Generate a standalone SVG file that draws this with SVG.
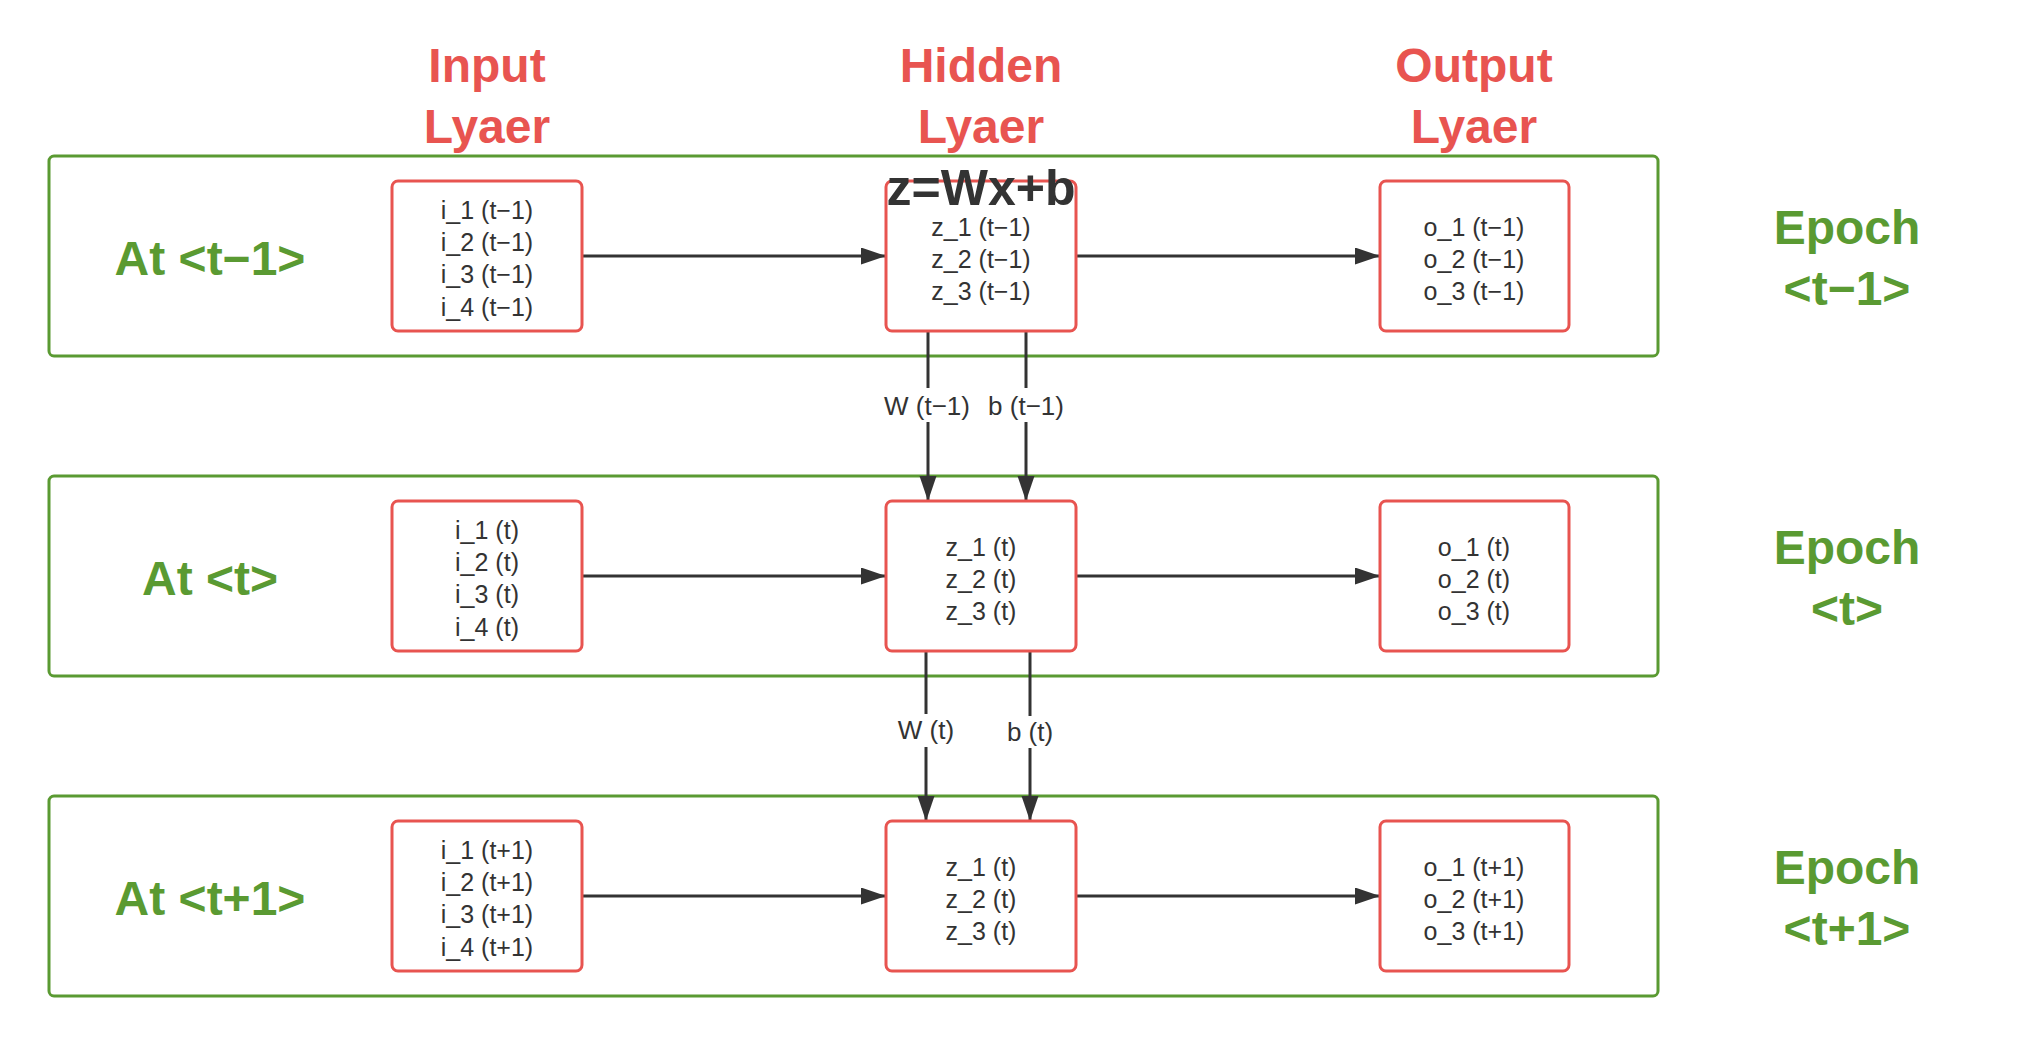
<svg xmlns="http://www.w3.org/2000/svg" width="2036" height="1046" viewBox="0 0 2036 1046">
<style>
.band{fill:none;stroke:#5a9a32;stroke-width:3}
.box{fill:#fff;stroke:#e85450;stroke-width:3}
.t{font-family:"Liberation Sans",Arial,sans-serif;font-size:25px;fill:#333;text-anchor:middle}
.lbl{font-family:"Liberation Sans",Arial,sans-serif;font-size:26px;fill:#333;text-anchor:middle}
.big{font-family:"Liberation Sans",Arial,sans-serif;font-size:48px;font-weight:bold;text-anchor:middle}
.red{fill:#e85450}
.green{fill:#5a9a32}
.eq{font-family:"Liberation Sans",Arial,sans-serif;font-size:50px;font-weight:bold;fill:#333;text-anchor:middle}
.c{stroke:#333;stroke-width:3;fill:none}
</style>
<defs>
<marker id="arr" markerUnits="userSpaceOnUse" markerWidth="26" markerHeight="18" refX="25" refY="8.5" orient="auto">
<path d="M0,0 L25,8.5 L0,17 z" fill="#333"/>
</marker>
</defs>
<rect width="2036" height="1046" fill="#fff"/>

<g id="titles">
<text class="big red" x="487" y="82">Input</text>
<text class="big red" x="487" y="143">Lyaer</text>
<text class="big red" x="981" y="82">Hidden</text>
<text class="big red" x="981" y="143">Lyaer</text>
<text class="big red" x="1474" y="82">Output</text>
<text class="big red" x="1474" y="143">Lyaer</text>
</g>

<g id="band1">
<rect class="band" x="49" y="156" width="1609" height="200" rx="5"/>
<text class="big green" x="210" y="275">At &lt;t−1&gt;</text>
</g>
<g id="band2">
<rect class="band" x="49" y="476" width="1609" height="200" rx="5"/>
<text class="big green" x="210" y="595">At &lt;t&gt;</text>
</g>
<g id="band3">
<rect class="band" x="49" y="796" width="1609" height="200" rx="5"/>
<text class="big green" x="210" y="915">At &lt;t+1&gt;</text>
</g>

<g id="epoch1"><text class="big green" x="1847" y="244">Epoch</text><text class="big green" x="1847" y="305">&lt;t−1&gt;</text></g>
<g id="epoch2"><text class="big green" x="1847" y="564">Epoch</text><text class="big green" x="1847" y="625">&lt;t&gt;</text></g>
<g id="epoch3"><text class="big green" x="1847" y="884">Epoch</text><text class="big green" x="1847" y="945">&lt;t+1&gt;</text></g>

<g id="connectors">
<line class="c" x1="582" y1="256" x2="886" y2="256" marker-end="url(#arr)"/>
<line class="c" x1="1076" y1="256" x2="1380" y2="256" marker-end="url(#arr)"/>
<line class="c" x1="582" y1="576" x2="886" y2="576" marker-end="url(#arr)"/>
<line class="c" x1="1076" y1="576" x2="1380" y2="576" marker-end="url(#arr)"/>
<line class="c" x1="582" y1="896" x2="886" y2="896" marker-end="url(#arr)"/>
<line class="c" x1="1076" y1="896" x2="1380" y2="896" marker-end="url(#arr)"/>
<line class="c" x1="928" y1="331" x2="928" y2="388"/>
<line class="c" x1="928" y1="422" x2="928" y2="501" marker-end="url(#arr)"/>
<line class="c" x1="1026" y1="331" x2="1026" y2="388"/>
<line class="c" x1="1026" y1="422" x2="1026" y2="501" marker-end="url(#arr)"/>
<line class="c" x1="926" y1="651" x2="926" y2="714"/>
<line class="c" x1="926" y1="747" x2="926" y2="821" marker-end="url(#arr)"/>
<line class="c" x1="1030" y1="651" x2="1030" y2="716"/>
<line class="c" x1="1030" y1="748" x2="1030" y2="821" marker-end="url(#arr)"/>
<text class="lbl" x="927" y="415">W (t−1)</text>
<text class="lbl" x="1026" y="415">b (t−1)</text>
<text class="lbl" x="926" y="739">W (t)</text>
<text class="lbl" x="1030" y="741">b (t)</text>
</g>

<g id="input1"><rect class="box" x="392" y="181" width="190" height="150" rx="6"/>
<text class="t" x="487" y="219">i_1 (t−1)</text><text class="t" x="487" y="251">i_2 (t−1)</text><text class="t" x="487" y="283">i_3 (t−1)</text><text class="t" x="487" y="316">i_4 (t−1)</text></g>
<g id="hidden1"><rect class="box" x="886" y="181" width="190" height="150" rx="6"/>
<text class="t" x="981" y="236">z_1 (t−1)</text><text class="t" x="981" y="268">z_2 (t−1)</text><text class="t" x="981" y="300">z_3 (t−1)</text></g>
<g id="formula"><text class="eq" x="981" y="205">z=Wx+b</text></g>
<g id="output1"><rect class="box" x="1380" y="181" width="189" height="150" rx="6"/>
<text class="t" x="1474" y="236">o_1 (t−1)</text><text class="t" x="1474" y="268">o_2 (t−1)</text><text class="t" x="1474" y="300">o_3 (t−1)</text></g>

<g id="input2"><rect class="box" x="392" y="501" width="190" height="150" rx="6"/>
<text class="t" x="487" y="539">i_1 (t)</text><text class="t" x="487" y="571">i_2 (t)</text><text class="t" x="487" y="603">i_3 (t)</text><text class="t" x="487" y="636">i_4 (t)</text></g>
<g id="hidden2"><rect class="box" x="886" y="501" width="190" height="150" rx="6"/>
<text class="t" x="981" y="556">z_1 (t)</text><text class="t" x="981" y="588">z_2 (t)</text><text class="t" x="981" y="620">z_3 (t)</text></g>
<g id="output2"><rect class="box" x="1380" y="501" width="189" height="150" rx="6"/>
<text class="t" x="1474" y="556">o_1 (t)</text><text class="t" x="1474" y="588">o_2 (t)</text><text class="t" x="1474" y="620">o_3 (t)</text></g>

<g id="input3"><rect class="box" x="392" y="821" width="190" height="150" rx="6"/>
<text class="t" x="487" y="859">i_1 (t+1)</text><text class="t" x="487" y="891">i_2 (t+1)</text><text class="t" x="487" y="923">i_3 (t+1)</text><text class="t" x="487" y="956">i_4 (t+1)</text></g>
<g id="hidden3"><rect class="box" x="886" y="821" width="190" height="150" rx="6"/>
<text class="t" x="981" y="876">z_1 (t)</text><text class="t" x="981" y="908">z_2 (t)</text><text class="t" x="981" y="940">z_3 (t)</text></g>
<g id="output3"><rect class="box" x="1380" y="821" width="189" height="150" rx="6"/>
<text class="t" x="1474" y="876">o_1 (t+1)</text><text class="t" x="1474" y="908">o_2 (t+1)</text><text class="t" x="1474" y="940">o_3 (t+1)</text></g>
</svg>
